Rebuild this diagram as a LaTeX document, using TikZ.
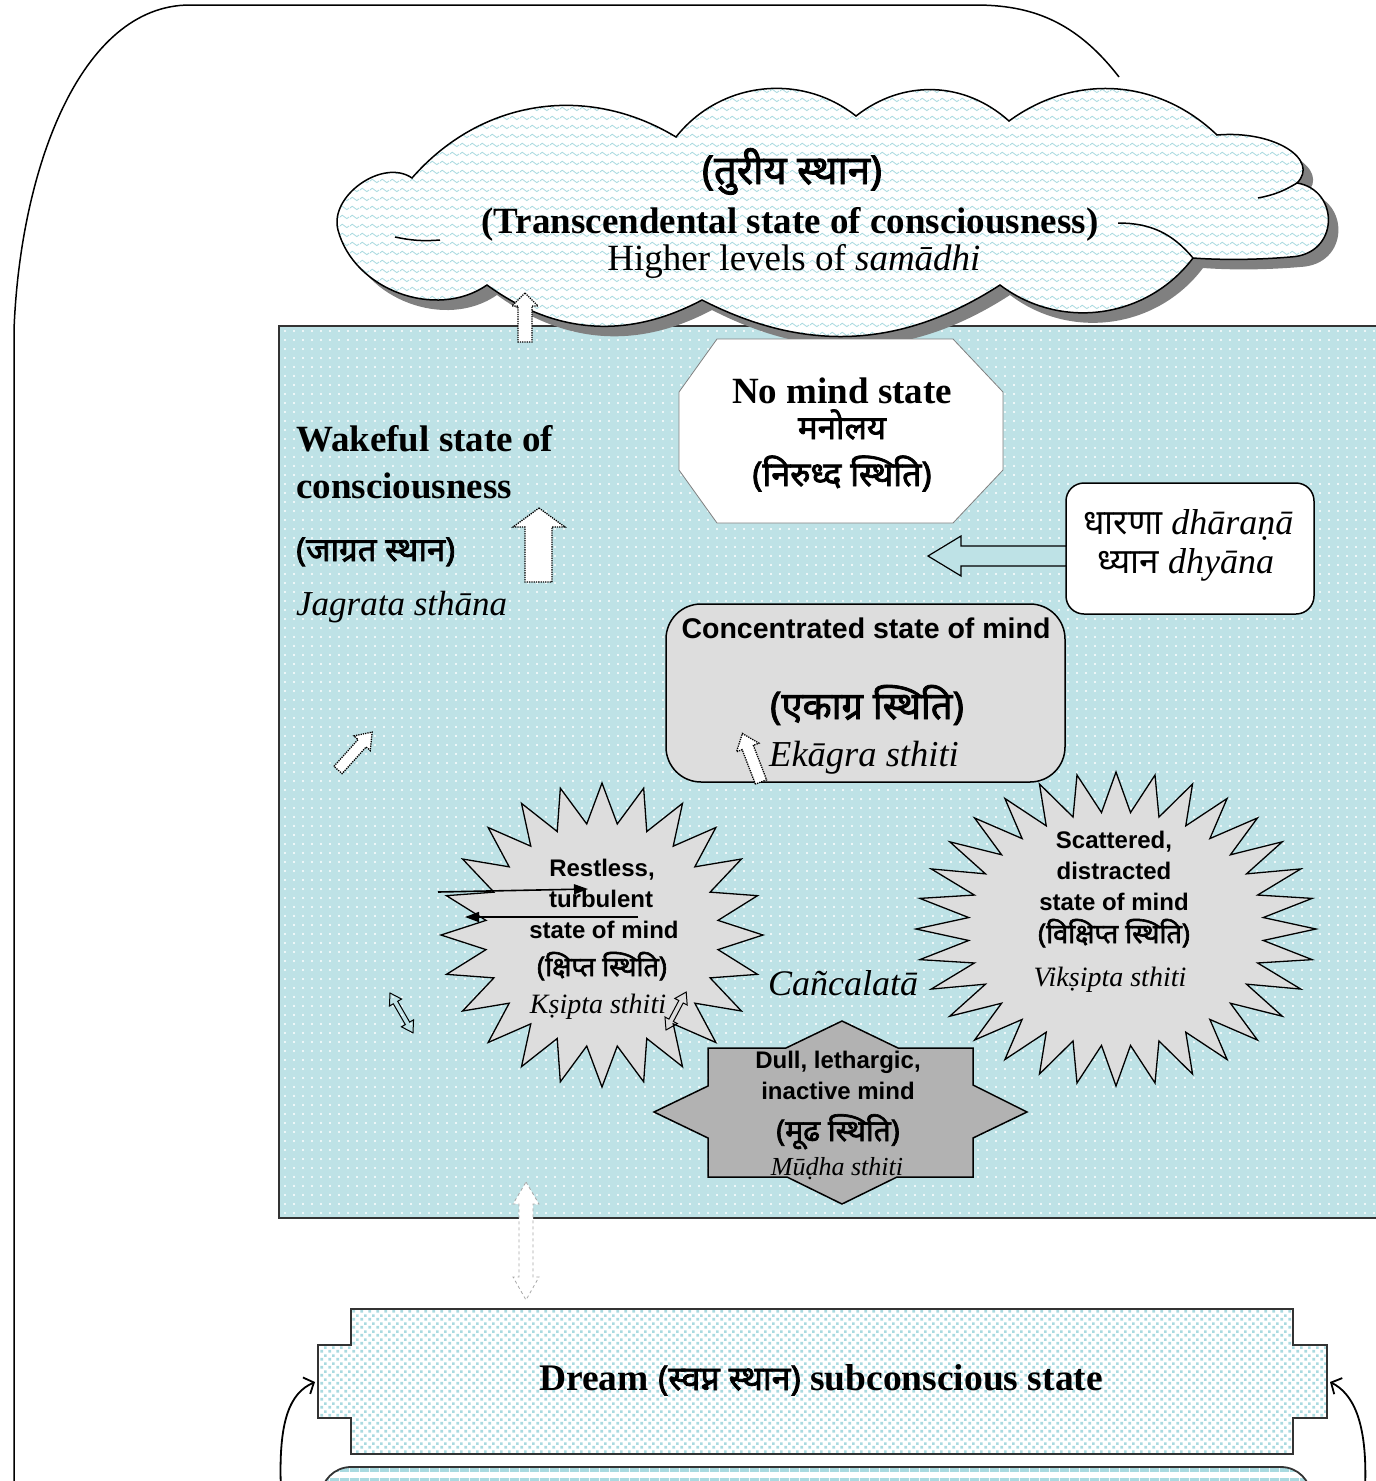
\documentclass[tikz,border=0pt]{standalone}
\usepackage{fontspec}
\setmainfont{Liberation Serif}
\setsansfont{Liberation Sans}
\newfontfamily\deva[Script=Devanagari]{Noto Sans}
\newfontfamily\devab[Script=Devanagari, FakeBold=2.2]{Noto Sans}
\usetikzlibrary{patterns,arrows.meta}

\definecolor{boxblue}{HTML}{BEE2E6}
\definecolor{patblue}{HTML}{A9DAE0}
\definecolor{lgray}{HTML}{DDDDDD}
\definecolor{mgray}{HTML}{B2B2B2}
\definecolor{shgray}{HTML}{808080}
\definecolor{edge}{HTML}{333333}

\pgfdeclarepatternformonly{wdots}{\pgfqpoint{0pt}{0pt}}{\pgfqpoint{8.5pt}{8.5pt}}{\pgfqpoint{8.5pt}{8.5pt}}{%
  \pgfpathcircle{\pgfqpoint{4.25pt}{4.25pt}}{1.1pt}\pgfusepath{fill}}
\pgfdeclarepatternformonly{cwaves}{\pgfqpoint{0pt}{0pt}}{\pgfqpoint{10pt}{9pt}}{\pgfqpoint{10pt}{9pt}}{%
  \pgfsetlinewidth{0.9pt}%
  \pgfpathmoveto{\pgfqpoint{0pt}{4.5pt}}%
  \pgfpathcurveto{\pgfqpoint{1.7pt}{7pt}}{\pgfqpoint{3.3pt}{7pt}}{\pgfqpoint{5pt}{4.5pt}}%
  \pgfpathcurveto{\pgfqpoint{6.7pt}{2pt}}{\pgfqpoint{8.3pt}{2pt}}{\pgfqpoint{10pt}{4.5pt}}%
  \pgfusepath{stroke}}
\pgfdeclarepatternformonly{sqdots}{\pgfqpoint{0pt}{0pt}}{\pgfqpoint{8pt}{8pt}}{\pgfqpoint{8pt}{8pt}}{%
  \pgfpathrectangle{\pgfqpoint{0.5pt}{0.5pt}}{\pgfqpoint{3pt}{3pt}}%
  \pgfpathrectangle{\pgfqpoint{4.5pt}{4.5pt}}{\pgfqpoint{3pt}{3pt}}%
  \pgfusepath{fill}}
\pgfdeclarepatternformonly{hstripe}{\pgfqpoint{0pt}{0pt}}{\pgfqpoint{10pt}{10pt}}{\pgfqpoint{10pt}{10pt}}{%
  \pgfpathrectangle{\pgfqpoint{0pt}{0pt}}{\pgfqpoint{10pt}{4pt}}\pgfusepath{fill}}

\newcommand{\cloudshape}{(338,230) to[bend left=70] (412,178) to[bend left=40] (676,137) to[bend left=45] (856,116) to[bend left=40] (1009,121) to[bend left=40] (1217,135) .. controls (1275,130) and (1320,160) .. (1297,183) .. controls (1340,190) and (1340,255) .. (1290,257) .. controls (1255,260) and (1220,260) .. (1193,258) to[bend left=45] (1000,285) to[bend left=30] (702,300) to[bend left=32] (487,285) to[bend left=55] (338,230) -- cycle}

\tikzset{
  serifbf/.style={font=\fontsize{37}{44}\selectfont\bfseries, inner sep=0pt},
  serifrm/.style={font=\fontsize{37}{44}\selectfont, inner sep=0pt},
  trans/.style={font=\fontsize{#1}{#1}\selectfont\itshape, inner sep=0pt},
  sansbf/.style={font=\fontsize{#1}{#1}\selectfont\sffamily\bfseries, inner sep=0pt},
  devbf/.style={font=\fontsize{#1}{#1}\selectfont\devab, inner sep=0pt},
  blockarrow/.style={fill=white, draw=black, densely dotted, line width=1.3pt},
  outlinearrow/.style={draw=black, line width=1pt},
  starshape/.style={draw=black, fill=lgray, line width=1.3pt},
  thinhead/.style={line width=1.6pt, -{Triangle[length=14pt,width=10pt]}},
  curvearrow/.style={line width=1.8pt, -{Straight Barb[length=8pt,width=18pt]}}
}

\begin{document}
\begin{tikzpicture}[x=1pt,y=-1pt,line join=miter]
\useasboundingbox (0,0) rectangle (1376,1481);
\clip (0,0) rectangle (1376,1481);

% outer frame
\draw[line width=1.5pt] (14,1490) -- (14,330) .. controls (20,170) and (80,5) .. (190,5) -- (975,5) .. controls (1030,5) and (1075,20) .. (1119,77);

% main box
\draw[line width=2pt, draw=edge, preaction={fill=boxblue}, pattern=wdots, pattern color=white] (279,326) rectangle (1400,1218);

% cloud
\fill[shgray, shift={(10,10)}] \cloudshape;
\draw[line width=1.5pt, preaction={fill=white}, pattern=cwaves, pattern color=patblue] \cloudshape;
\draw[line width=1.5pt] (1118,223) to[bend left=25] (1193,258);
\draw[line width=1.5pt] (1258,198) to[bend right=10] (1297,183);
\draw[line width=1.5pt] (395,237) to[bend right=8] (440,240);
\node[devbf=40, anchor=base] (turiya) at (792,184) {(तुरीय स्थान)};
\node[serifbf, anchor=base] (transc) at (790,233) {(Transcendental state of consciousness)};
\node[serifrm, anchor=base] (higher) at (794,270) {Higher levels of \textit{samādhi}};

% small arrow into cloud
\draw[blockarrow] (525,293) -- (538,306) -- (532,306) -- (532,342) -- (518,342) -- (518,306) -- (512,306) -- cycle;

% no mind octagon
\draw[line width=0.8pt, draw=gray, fill=white] (717,339) -- (953,339) -- (1003,392) -- (1003,470) -- (953,523) -- (717,523) -- (679,470) -- (679,392) -- cycle;
\node[serifbf, anchor=base] (nomind) at (842,403) {No mind state};
\node[devbf=33, anchor=base] (manolaya) at (842,439) {मनोलय};
\node[devbf=34, anchor=base] (niruddha) at (842,486) {(निरुध्द स्थिति)};

% dharana box and arrow
\draw[line width=1.5pt, fill=white, rounded corners=18] (1066,483) rectangle (1314,614);
\node[anchor=base west, inner sep=0pt, font=\fontsize{36}{36}\selectfont] (dharana) at (1083,534) {{\deva\fontsize{35}{35}\selectfont धारणा} \textit{dhāraṇā}};
\node[anchor=base west, inner sep=0pt, font=\fontsize{36}{36}\selectfont] (dhyana) at (1097,573) {{\deva\fontsize{35}{35}\selectfont ध्यान} \textit{dhyāna}};
\draw[line width=1.2pt, fill=boxblue] (928,556) -- (961,536) -- (961,546) -- (1066,546) -- (1066,566) -- (961,566) -- (961,576) -- cycle;

% concentrated box
\draw[line width=1.5pt, fill=lgray, rounded corners=35] (666,604) rectangle (1065,782);
\node[sansbf=28.5, anchor=base] (conc) at (866,638) {Concentrated state of mind};
\node[devbf=38, anchor=base] (ekagradev) at (867,719) {(एकाग्र स्थिति)};
\node[trans=36.5, anchor=base west] (ekagra) at (769,766) {Ekāgra sthiti};
\begin{scope}[shift={(761,782)}, rotate=111]
\draw[blockarrow] (0,-6) -- (37,-6) -- (37,-12) -- (52,0) -- (37,12) -- (37,6) -- (0,6) -- cycle;
\end{scope}

% wakeful
\node[serifbf, anchor=base west] (wake1) at (296,451) {Wakeful state of};
\node[serifbf, anchor=base west] (wake2) at (296,498) {consciousness};
\node[devbf=33, anchor=base west] (jagratdev) at (296,561) {(जाग्रत स्थान)};
\node[trans=35, anchor=base west] (jagrata) at (296,615) {Jagrata sthāna};
\draw[blockarrow] (539,508) -- (565,527) -- (552,527) -- (552,582) -- (525,582) -- (525,527) -- (513,527) -- cycle;
\begin{scope}[shift={(338,770)}, rotate=48]
\draw[blockarrow] (0,-5.5) -- (36,-5.5) -- (36,-11) -- (51,0) -- (36,11) -- (36,5.5) -- (0,5.5) -- cycle;
\end{scope}

% restless star
\draw[starshape] plot[samples at={0,...,47}, variable=\k] ({602+(161-44*mod(\k,2))*sin(\k*7.5)}, {935-(152-40*mod(\k,2))*cos(\k*7.5)}) -- cycle;
\node[sansbf=24, anchor=base] (ks1) at (602,876) {Restless,};
\node[sansbf=24, anchor=base] (ks2) at (601,907) {turbulent};
\node[sansbf=24, anchor=base] (ks3) at (604,938) {state of mind};
\node[devbf=27, anchor=base] (ks4) at (602,976) {(क्षिप्त स्थिति)};
\node[trans=28, anchor=base] (ks5) at (598,1013) {Kṣipta sthiti};
\coordinate (r1a) at (438,892); \coordinate (r1b) at (588,889);
\coordinate (r2a) at (638,917); \coordinate (r2b) at (465,917);
\draw[thinhead] (r1a) -- (r1b);
\draw[thinhead] (r2a) -- (r2b);

% double arrows
\begin{scope}[shift={(390,993)}, rotate=-60]
\draw[outlinearrow] (0,0) -- (11,-7) -- (11,-2.5) -- (35,-2.5) -- (35,-7) -- (46,0) -- (35,7) -- (35,2.5) -- (11,2.5) -- (11,7) -- cycle;
\end{scope}
\begin{scope}[shift={(666,1030)}, rotate=62]
\draw[outlinearrow] (0,0) -- (11,-7) -- (11,-2.5) -- (32,-2.5) -- (32,-7) -- (43,0) -- (32,7) -- (32,2.5) -- (11,2.5) -- (11,7) -- cycle;
\end{scope}

% vikshipta star
\draw[starshape] plot[samples at={0,...,63}, variable=\k] ({1116+(200-52*mod(\k,2))*sin(\k*5.625)}, {929-(157-40*mod(\k,2))*cos(\k*5.625)}) -- cycle;
\node[sansbf=24, anchor=base] (vs1) at (1114,848) {Scattered,};
\node[sansbf=24, anchor=base] (vs2) at (1114,879) {distracted};
\node[sansbf=24, anchor=base] (vs3) at (1114,910) {state of mind};
\node[devbf=27, anchor=base] (vs4) at (1114,943) {(विक्षिप्त स्थिति)};
\node[trans=28, anchor=base] (vs5) at (1110,986) {Vikṣipta sthiti};

\node[trans=36, anchor=base west] (cancala) at (768,995) {Cañcalatā};

% mudha
\draw[line width=1.5pt, fill=mgray] (842,1021) -- (898,1048) -- (973,1048) -- (973,1085) -- (1027,1112) -- (973,1138) -- (973,1177) -- (897,1177) -- (842,1204) -- (787,1177) -- (708,1177) -- (708,1138) -- (654,1112) -- (708,1086) -- (708,1048) -- (786,1048) -- cycle;
\node[sansbf=24, anchor=base] (md1) at (838,1068) {Dull, lethargic,};
\node[sansbf=24, anchor=base] (md2) at (838,1099) {inactive mind};
\node[devbf=30, anchor=base] (md3) at (838,1141) {(मूढ स्थिति)};
\node[trans=26, anchor=base] (md4) at (837,1175) {Mūḍha sthiti};

% vertical double arrow
\draw[line width=0.8pt, draw=gray!70, dashed, fill=white] (526,1182) -- (539,1204) -- (533,1204) -- (533,1277) -- (539,1277) -- (526,1300) -- (513,1277) -- (519,1277) -- (519,1204) -- (513,1204) -- cycle;

% dream box
\draw[line width=1.8pt, draw=edge, preaction={fill=white}, pattern=sqdots, pattern color=patblue] (351,1309) -- (1293,1309) -- (1293,1345) -- (1327,1345) -- (1327,1418) -- (1293,1418) -- (1293,1454) -- (351,1454) -- (351,1418) -- (318,1418) -- (318,1345) -- (351,1345) -- cycle;
\node[anchor=base, inner sep=0pt, font=\fontsize{37.5}{38}\selectfont\bfseries] (dream) at (821,1390) {Dream {\devab\fontsize{34}{34}\selectfont (स्वप्न स्थान)} subconscious state};

% bottom box
\draw[line width=1.8pt, draw=edge, preaction={fill=white}, pattern=hstripe, pattern color=patblue, rounded corners=30] (321,1540) rectangle (1311,1467);

% curved arrows
\coordinate (lstart) at (281,1490); \coordinate (ltip) at (315,1382);
\coordinate (rstart) at (1365,1490); \coordinate (rtip) at (1330,1382);
\draw[curvearrow] (lstart) .. controls (278,1420) and (290,1393) .. (ltip);
\draw[curvearrow] (rstart) .. controls (1368,1420) and (1352,1393) .. (rtip);
\end{tikzpicture}
\end{document}
